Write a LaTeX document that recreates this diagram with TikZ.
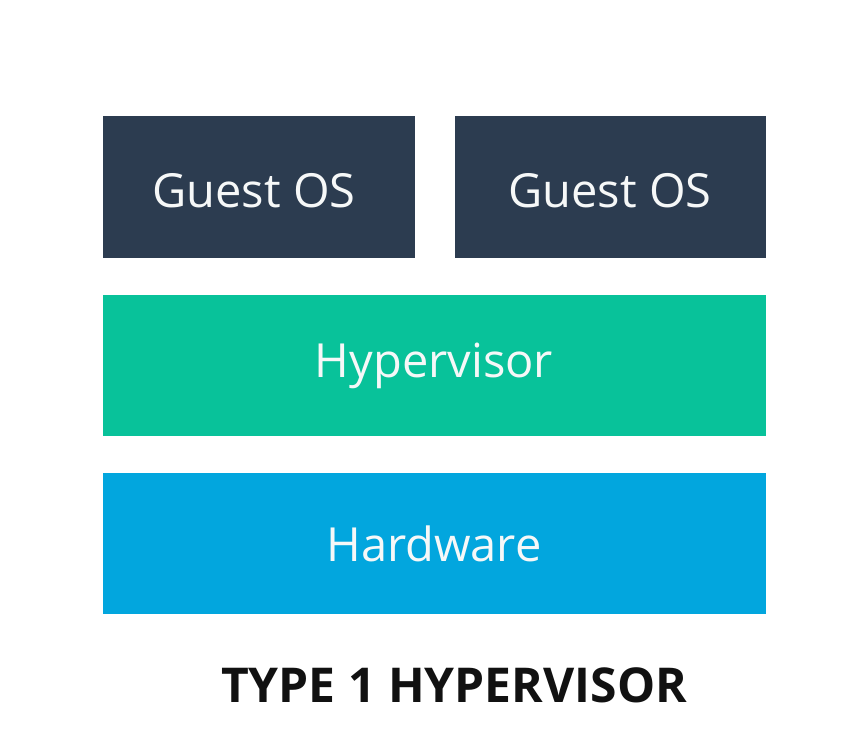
\documentclass[tikz,border=0pt]{standalone}
\usepackage{fontspec}
\setmainfont{Open Sans}
\definecolor{guestc}{RGB}{44,60,80}
\definecolor{hyperc}{RGB}{8,194,154}
\definecolor{hardc}{RGB}{2,166,222}
\definecolor{labc}{RGB}{246,248,248}
\definecolor{titc}{RGB}{17,17,17}
\tikzset{
  layer/.style={draw=none},
  lab/.style={anchor=base, text=labc, font=\fontsize{47}{50}\selectfont, inner sep=0pt},
  ttl/.style={anchor=base, text=titc, font=\fontsize{48}{52}\selectfont\bfseries, inner sep=0pt}
}
\begin{document}
\begin{tikzpicture}[x=1pt,y=-1pt]
\useasboundingbox (0,0) rectangle (845,745);
\fill[white] (0,0) rectangle (845,745);
\fill[guestc] (103,116) rectangle (415,258);
\fill[guestc] (455,116) rectangle (766,258);
\fill[hyperc] (103,295) rectangle (766,436);
\fill[hardc] (103,473) rectangle (766,614);
\node[lab] (g1) at (254,207) {Guest OS};
\node[lab] (g2) at (610,207) {Guest OS};
\node[lab] (hv) at (434,377) {Hypervisor};
\node[lab] (hw) at (434,561) {Hardware};
\node[ttl] (t) at (454,702) {TYPE 1 HYPERVISOR};
\end{tikzpicture}
\end{document}
